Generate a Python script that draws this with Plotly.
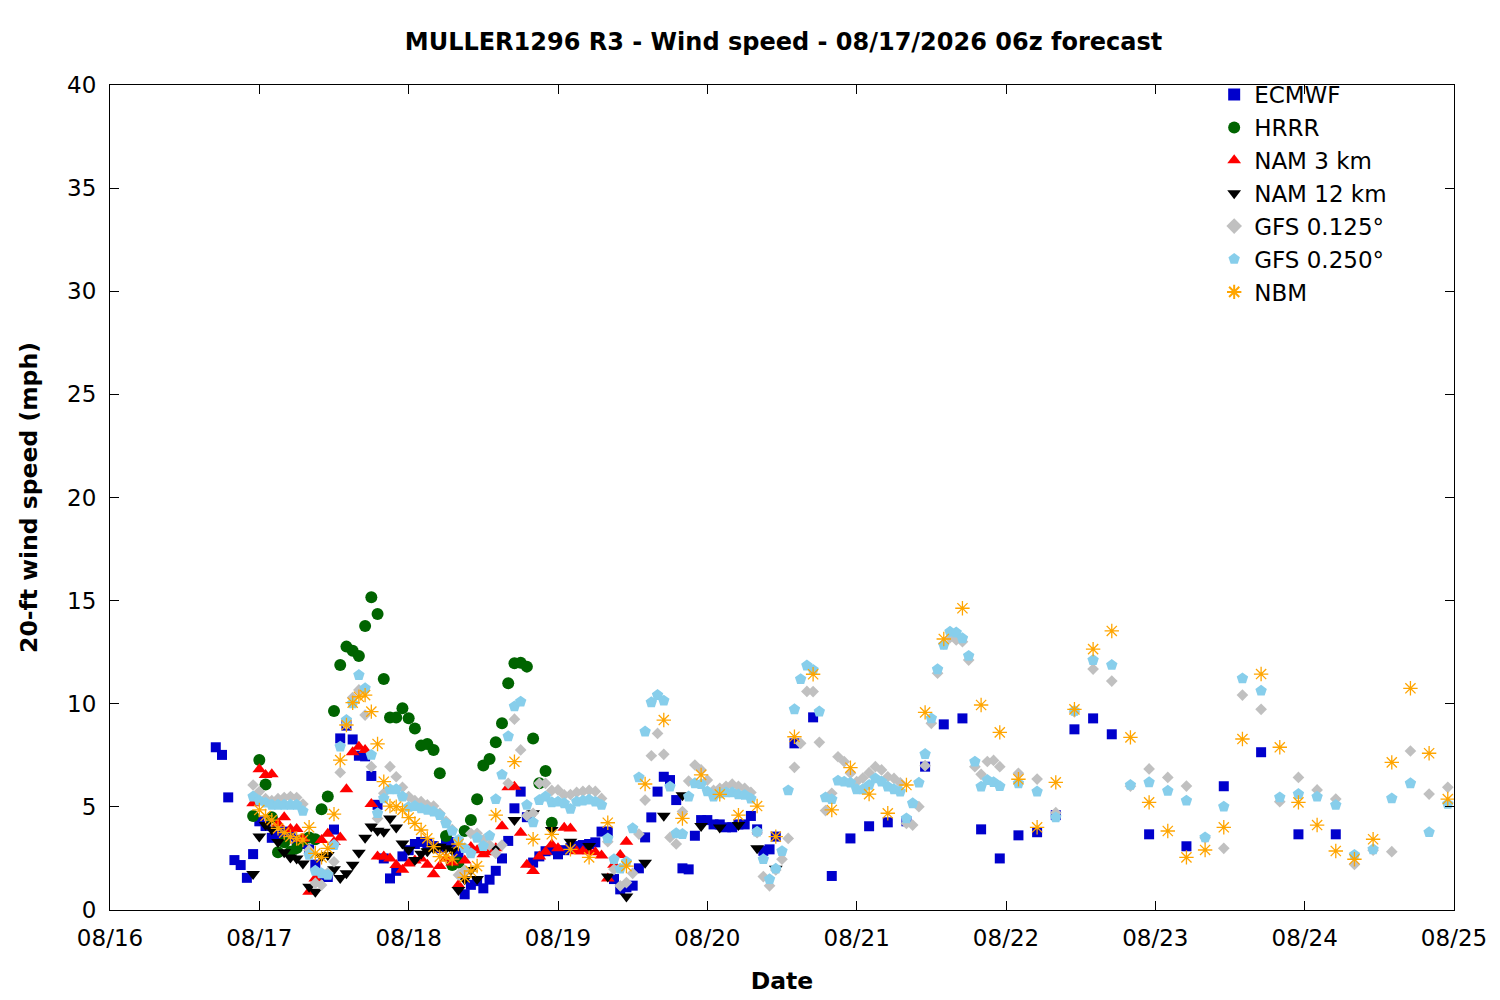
import datetime as dt
import plotly.graph_objects as go

# forecast hours are counted from 08/16 00:00 local time
start = dt.datetime(2026, 8, 16)

ecmwf_hours = list(range(17, 108)) + list(range(110, 162, 3)) + list(range(167, 198, 6))
ecmwf = [
    7.89, 7.52, 5.46, 2.42, 2.18, 1.56, 2.71, 4.3, 4.07, 3.5,
    3.6, 3.8, 3.6, 3.4, 3.2, 2.94, 2.2, 1.7, 1.6, 3.9,
    8.32, 8.94, 8.27, 7.48, 7.45, 6.5, 5.1, 2.5, 1.53, 1.9,
    2.6, 2.9, 3.2, 3.3, 3.2, 3.1, 3.0, 3.2, 3.3, 2.75,
    0.76, 1.22, 1.4, 1.05, 1.47, 1.9, 2.5, 3.35, 4.93, 5.74,
    4.5, 2.3, 2.6, 2.85, 2.9, 2.7, 2.9, 3.0, 3.1, 3.15,
    3.2, 3.28, 3.8, 3.8, 1.5, 1.0, 1.1, 1.18, 2.02, 3.52,
    4.49, 5.74, 6.46, 6.3, 5.33, 2.02, 1.97, 3.6, 4.36, 4.36,
    4.15, 4.15, 4.01, 4.01, 4.15, 4.15, 4.56, 3.91, 2.87, 2.94,
    3.56,
    8.08, 9.34, 1.65, 3.47, 4.06, 4.25, 4.3, 6.95, 9.0, 9.29,
    3.91, 2.5, 3.62, 3.77, 4.6, 8.76, 9.29, 8.52,
    3.67, 3.09, 6.0, 7.65, 3.67, 3.67,
]

hrrr_hours = list(range(23, 72))
hrrr = [
    4.56, 7.27, 6.09, 4.5, 2.8, 3.28, 2.83, 3.0, 3.4, 3.52,
    3.43, 4.88, 5.5, 9.65, 11.88, 12.77, 12.57, 12.31, 13.77, 15.16,
    14.35, 11.2, 9.33, 9.33, 9.78, 9.3, 8.8, 7.97, 8.05, 7.76,
    6.63, 3.59, 2.18, 2.3, 3.83, 4.36, 5.37, 7.01, 7.32, 8.13,
    9.05, 10.99, 11.96, 11.99, 11.8, 8.32, 6.14, 6.74, 4.23,
]

nam3_hours = list(range(23, 84))
nam3 = [
    5.17, 6.82, 6.55, 6.58, 4.2, 4.5, 3.93, 3.93, 3.45, 0.89,
    1.53, 3.4, 3.7, 3.3, 3.52, 5.85, 7.65, 7.92, 7.76, 5.14,
    2.59, 2.59, 2.5, 2.18, 1.95, 2.25, 2.4, 2.5, 2.2, 1.73,
    2.13, 2.5, 2.3, 1.21, 2.4, 3.05, 2.9, 2.7, 2.8, 3.0,
    4.06, 5.95, 5.98, 3.75, 2.2, 1.89, 2.59, 2.83, 3.18, 3.0,
    3.99, 3.95, 2.85, 2.85, 2.85, 2.8, 2.64, 1.53, 2.2, 2.67,
    3.31,
]

nam12_hours = list(range(23, 60)) + list(range(62, 108, 3))
nam12 = [
    1.75, 3.56, 4.12, 3.9, 3.3, 2.8, 2.55, 2.5, 2.26, 1.13,
    0.89, 2.59, 2.67, 1.98, 1.55, 1.78, 2.2, 2.77, 3.5, 4.05,
    3.84, 3.8, 4.44, 4.0, 3.23, 2.92, 2.42, 2.73, 2.85, 2.99,
    3.07, 3.0, 2.9, 0.97, 1.49, 1.94, 1.5,
    3.0, 4.36, 4.69, 3.88, 3.31, 3.1, 1.62, 0.65, 2.29, 4.57,
    5.56, 4.07, 4.0, 4.12, 2.99, 2.0,
]

gfs_hours = list(range(23, 144)) + list(range(146, 216, 3))
gfs0125 = [
    6.06, 5.74, 5.4, 5.3, 5.4, 5.45, 5.5, 5.45, 5.14, 2.9,
    1.3, 1.21, 1.8, 2.34, 6.67, 9.0, 10.3, 10.67, 9.45, 6.95,
    4.44, 5.66, 6.95, 6.46, 5.95, 5.5, 5.3, 5.25, 5.1, 5.04,
    4.69, 4.3, 3.9, 1.7, 1.94, 3.72, 3.72, 3.4, 3.15, 2.75,
    3.15, 6.14, 9.25, 7.76, 4.57, 4.69, 6.14, 6.14, 5.8, 5.82,
    5.58, 5.6, 5.7, 5.75, 5.8, 5.75, 5.41, 3.31, 1.97, 1.17,
    1.33, 1.78, 3.68, 5.33, 7.48, 8.56, 7.55, 3.52, 3.2, 4.77,
    6.25, 7.03, 6.79, 6.3, 5.8, 5.9, 6.0, 6.1, 6.0, 5.9,
    5.7, 3.75, 1.62, 1.17, 1.94, 2.46, 3.47, 6.92, 8.08, 10.6,
    10.59, 8.13, 4.82, 5.66, 7.43, 7.19, 6.63, 6.22, 6.4, 6.66,
    6.95, 6.79, 6.46, 6.38, 6.17, 4.2, 4.12, 5.01, 7.0, 9.05,
    11.48, 12.9, 13.2, 13.09, 13.01, 12.12, 6.95, 6.58, 7.2, 7.25,
    6.95,
    6.63, 6.35, 4.72, 9.6, 11.68, 11.1, 6.0, 6.84, 6.43, 6.01,
    3.5, 2.99, 10.42, 9.73, 5.25, 6.43, 5.82, 5.38, 2.21, 2.9,
    2.83, 7.71, 5.62, 5.95,
]
gfs0250 = [
    5.5, 5.3, 5.2, 5.1, 5.1, 5.1, 5.1, 5.1, 4.8, 2.67,
    1.9, 1.78, 1.7, 3.15, 7.92, 9.21, 10.02, 11.39, 10.75, 7.52,
    4.69, 5.41, 5.85, 5.85, 5.5, 5.0, 5.04, 4.93, 4.85, 4.77,
    4.6, 4.2, 3.83, 3.4, 3.0, 2.75, 3.5, 3.1, 3.6, 5.37,
    6.56, 8.42, 9.87, 10.1, 5.09, 4.25, 5.33, 5.5, 5.22, 5.25,
    5.17, 4.9, 5.25, 5.3, 5.35, 5.25, 5.09, 3.47, 2.46, 2.0,
    2.34, 3.96, 6.43, 8.65, 10.07, 10.42, 10.15, 5.98, 3.72, 3.68,
    5.5, 6.14, 6.1, 5.75, 5.5, 5.65, 5.7, 5.7, 5.6, 5.58,
    5.4, 3.8, 2.46, 1.49, 2.0, 2.85, 5.8, 9.73, 11.19, 11.85,
    11.64, 9.62, 5.46, 5.37, 6.27, 6.22, 6.17, 5.85, 5.85, 6.06,
    6.38, 6.22, 5.98, 5.85, 5.74, 4.44, 5.17, 6.17, 7.56, 9.29,
    11.67, 12.85, 13.49, 13.45, 13.17, 12.32, 7.19, 5.98, 6.3, 6.2,
    6.0,
    6.14, 5.74, 4.49, 9.65, 12.12, 11.88, 6.06, 6.19, 5.78, 5.3,
    3.52, 5.01, 11.23, 10.63, 5.46, 5.62, 5.49, 5.09, 2.67, 2.94,
    5.41, 6.14, 3.77, 5.14,
]

nbm_hours = list(range(24, 60)) + list(range(62, 216, 3))
nbm = [
    4.85, 4.56, 4.36, 3.96, 3.75, 3.56, 3.47, 3.39, 4.01, 2.75,
    2.55, 2.99, 4.65, 7.27, 8.97, 10.05, 10.34, 10.42, 9.62, 8.05,
    6.22, 5.04, 5.01, 4.85, 4.48, 4.2, 3.88, 3.47, 3.07, 2.59,
    2.59, 2.47, 3.2, 1.58, 1.89, 2.13,
    4.6, 7.19, 3.43, 3.67, 2.94, 2.55, 4.23, 2.13, 6.11, 9.21,
    4.44, 6.55, 5.61, 4.6, 5.04, 3.56, 8.4, 11.43, 4.85, 6.9,
    5.62, 4.69, 6.06, 9.58, 13.14, 14.63, 9.94, 8.61, 6.34, 4.01,
    6.19, 9.73, 12.65, 13.53, 8.37, 5.22, 3.83, 2.55, 2.91, 4.01,
    8.29, 11.44, 7.89, 5.22, 4.12, 2.86, 2.46, 3.43, 7.16, 10.75,
    7.6, 5.38,
]

for h, v in [(ecmwf_hours, ecmwf), (hrrr_hours, hrrr), (nam3_hours, nam3),
             (nam12_hours, nam12), (gfs_hours, gfs0125), (gfs_hours, gfs0250),
             (nbm_hours, nbm)]:
    assert len(h) == len(v), (len(h), len(v))


def to_time(hours):
    return [start + dt.timedelta(hours=h) for h in hours]


series = [
    ("ECMWF", ecmwf_hours, ecmwf, dict(symbol="square", size=10, color="#0000cc")),
    ("HRRR", hrrr_hours, hrrr, dict(symbol="circle", size=12, color="#006400")),
    ("NAM 3 km", nam3_hours, nam3, dict(symbol="triangle-up", size=12, color="#ff0000")),
    ("NAM 12 km", nam12_hours, nam12, dict(symbol="triangle-down", size=12, color="#000000")),
    ("GFS 0.125°", gfs_hours, gfs0125, dict(symbol="diamond", size=9, color="#c0c0c0")),
    ("GFS 0.250°", gfs_hours, gfs0250, dict(symbol="pentagon", size=12, color="#87ceeb")),
    ("NBM", nbm_hours, nbm, dict(symbol="asterisk-open", size=12, color="#ffa500",
                                 line=dict(color="#ffa500", width=1.3))),
]

fig = go.Figure()
for name, hours, vals, marker in series:
    fig.add_trace(go.Scatter(x=to_time(hours), y=vals, mode="markers", name=name,
                             marker=marker))

axis_font = dict(family="DejaVu Sans", size=23, color="black")

# the page adds an 8 px body margin, so the margins are shifted to match
fig.update_layout(
    width=1500,
    height=1000,
    paper_bgcolor="white",
    plot_bgcolor="white",
    font=axis_font,
    margin=dict(l=102, r=54, t=77, b=98),
    title=dict(text="<b>MULLER1296 R3 - Wind speed - 08/17/2026 06z forecast</b>",
               x=0.517, xanchor="center", y=0.966, yanchor="middle",
               font=dict(family="DejaVu Sans", size=24)),
    legend=dict(x=0.954, xanchor="right", y=1.0145, yanchor="top",
                bgcolor="rgba(0,0,0,0)", font=dict(size=23),
                itemsizing="constant", tracegroupgap=0),
    xaxis=dict(
        type="date",
        range=["2026-08-16", "2026-08-25"],
        dtick=86400000,
        tickformat="%m/%d",
        ticks="inside", ticklen=9, tickcolor="black",
        ticklabelstandoff=7,
        showline=True, linecolor="black", linewidth=1, mirror="ticks",
        showgrid=False, zeroline=False,
        title=dict(text="<b>Date</b>", standoff=22, font=dict(size=23.5)),
    ),
    yaxis=dict(
        range=[0, 40],
        dtick=5,
        ticks="inside", ticklen=9, tickcolor="black",
        ticklabelstandoff=8,
        showline=True, linecolor="black", linewidth=1, mirror="ticks",
        showgrid=False, zeroline=False,
        title=dict(text="<b>20-ft wind speed (mph)</b>", standoff=22,
                   font=dict(size=23.5)),
    ),
)

fig.write_html("out.html")
